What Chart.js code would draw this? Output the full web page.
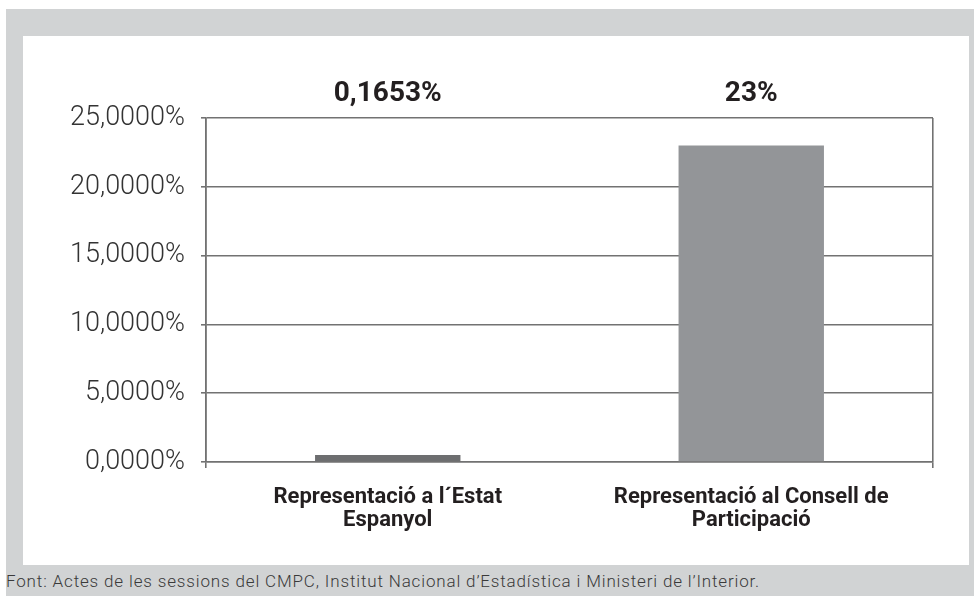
<!DOCTYPE html>
<html>
<head>
<meta charset="utf-8">
<script src="https://cdn.jsdelivr.net/npm/chart.js@4.4.0/dist/chart.umd.min.js"></script>
<style>
  body { margin: 0; background: #fff; width: 974px; height: 596px; overflow: hidden; position: relative; }
  #frame { position: absolute; left: 6px; top: 9px; width: 968px; height: 587px; background: #d1d3d4; }
  #panel { position: absolute; left: 23px; top: 36px; width: 946px; height: 529px; background: #fff; }
  #chart { position: absolute; left: 0; top: 0; }
  #source { position: absolute; left: 6px; top: 571px; font: 300 17px Roboto, sans-serif; letter-spacing: 0.85px; color: #3a3a3a; white-space: nowrap; }
</style>
</head>
<body>
<div id="frame"></div>
<div id="panel"><canvas id="chart" width="946" height="529"></canvas></div>
<div id="source">Font: Actes de les sessions del CMPC, Institut Nacional d’Estadística i Ministeri de l’Interior.</div>
<script>
var categories = [["Representació a l´Estat", "Espanyol"], ["Representació al Consell de", "Participació"]];
var values = [0.1653, 23];
var barColors = ["#6d6e70", "#939598"];
var yTicks = { min: 0, max: 25, step: 5 };

var lineColor = "#727272";

var topLabels = {
  id: 'topLabels',
  afterDatasetsDraw: function(chart) {
    var ctx = chart.ctx;
    var meta = chart.getDatasetMeta(0);
    ctx.save();
    ctx.font = "bold 28px Roboto, sans-serif";
    ctx.fillStyle = "#231f20";
    ctx.textAlign = "center";
    ctx.textBaseline = "middle";
    meta.data.forEach(function(bar, i) {
      var txt = String(values[i]).replace('.', ',') + '%';
      ctx.fillText(txt, bar.x, chart.chartArea.top - 24);
    });
    ctx.restore();
  }
};

var ctx = document.getElementById("chart").getContext('2d');
var chart = new Chart(ctx, {
  type: 'bar',
  data: {
    labels: categories,
    datasets: [{
      data: values,
      backgroundColor: barColors,
      borderWidth: 0,
      minBarLength: 7,
      barPercentage: 0.4,
      categoryPercentage: 1
    }]
  },
  options: {
    responsive: false,
    animation: false,
    devicePixelRatio: 1,
    layout: { padding: { left: 0, right: 36, top: 82, bottom: 0 } },
    plugins: { legend: { display: false }, tooltip: { enabled: false } },
    scales: {
      x: {
        afterFit: function(s) { s.height = 103; },
        grid: {
          offset: true,
          lineWidth: 1.6,
          tickLength: 6,
          color: function(c) { return c.index === 1 ? 'rgba(0,0,0,0)' : lineColor; }
        },
        border: { display: true, color: lineColor, width: 1.6 },
        ticks: {
          padding: 18,
          color: "#231f20",
          font: { family: "Roboto", size: 22, weight: "bold", lineHeight: 1.05 },
          maxRotation: 0
        }
      },
      y: {
        min: yTicks.min,
        max: yTicks.max,
        afterFit: function(s) { s.width = 183; },
        grid: { lineWidth: 1.6, color: lineColor, tickLength: 5 },
        border: { display: true, color: lineColor, width: 1.6 },
        ticks: {
          stepSize: yTicks.step,
          padding: 16,
          color: "#333",
          font: { family: "Roboto", size: 27, weight: "300" },
          callback: function(v) { return v.toFixed(4).replace('.', ',') + '%'; }
        }
      }
    }
  },
  plugins: [topLabels]
});
</script>
</body>
</html>
